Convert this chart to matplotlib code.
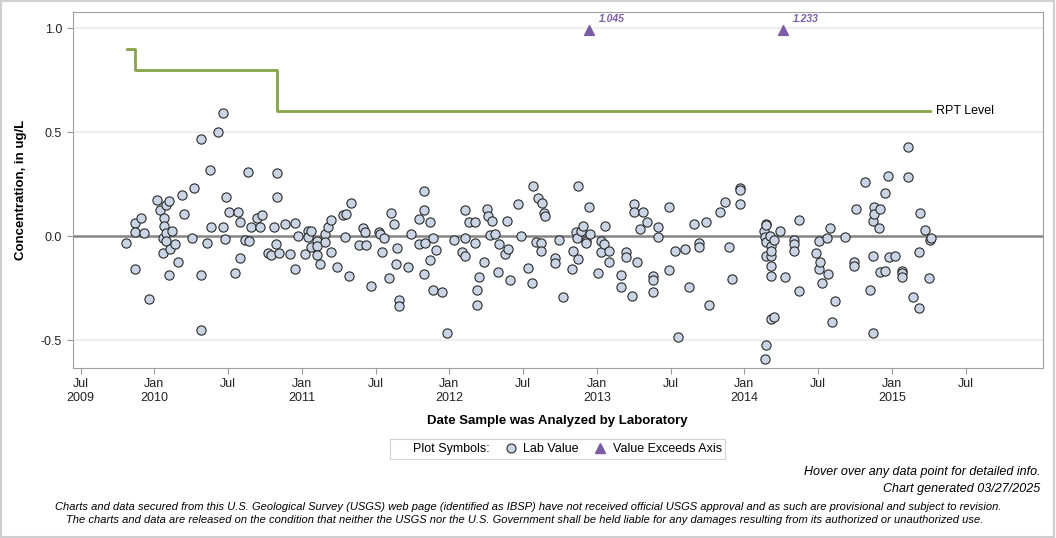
import matplotlib
matplotlib.use("Agg")
import matplotlib.pyplot as plt
from matplotlib.lines import Line2D
from matplotlib.patches import Rectangle
import numpy as np

plt.rcParams['font.family'] = ['Liberation Sans', 'DejaVu Sans']

# sample dates (decimal years) and lab values, ug/L
dates = [
    2009.811, 2009.872, 2009.872, 2009.872, 2009.910, 2009.933, 2009.964, 2010.021, 2010.039, 2010.057,
    2010.061, 2010.068, 2010.068, 2010.080, 2010.080, 2010.082, 2010.102, 2010.102, 2010.109, 2010.122,
    2010.143, 2010.163, 2010.190, 2010.204, 2010.254, 2010.272, 2010.319, 2010.319, 2010.319, 2010.360,
    2010.380, 2010.387, 2010.434, 2010.468, 2010.468, 2010.482, 2010.486, 2010.505, 2010.549, 2010.570,
    2010.583, 2010.583, 2010.615, 2010.638, 2010.644, 2010.658, 2010.697, 2010.719, 2010.731, 2010.771,
    2010.794, 2010.814, 2010.823, 2010.834, 2010.834, 2010.848, 2010.888, 2010.920, 2010.956, 2010.956,
    2010.977, 2011.024, 2011.042, 2011.042, 2011.065, 2011.065, 2011.105, 2011.105, 2011.105, 2011.122,
    2011.160, 2011.160, 2011.180, 2011.200, 2011.200, 2011.241, 2011.280, 2011.295, 2011.302, 2011.322,
    2011.336, 2011.388, 2011.417, 2011.431, 2011.438, 2011.469, 2011.524, 2011.531, 2011.546, 2011.560,
    2011.594, 2011.605, 2011.627, 2011.641, 2011.648, 2011.661, 2011.661, 2011.722, 2011.743, 2011.797,
    2011.797, 2011.831, 2011.831, 2011.831, 2011.838, 2011.871, 2011.871, 2011.892, 2011.892, 2011.912,
    2011.953, 2011.987, 2012.034, 2012.088, 2012.107, 2012.109, 2012.109, 2012.136, 2012.177, 2012.177,
    2012.190, 2012.190, 2012.204, 2012.238, 2012.258, 2012.265, 2012.278, 2012.292, 2012.312, 2012.333,
    2012.339, 2012.380, 2012.394, 2012.400, 2012.414, 2012.468, 2012.488, 2012.536, 2012.563, 2012.570,
    2012.590, 2012.604, 2012.624, 2012.624, 2012.631, 2012.644, 2012.651, 2012.717, 2012.717, 2012.746,
    2012.771, 2012.834, 2012.841, 2012.859, 2012.864, 2012.875, 2012.875, 2012.895, 2012.909, 2012.929,
    2012.929, 2012.950, 2012.956, 2013.011, 2013.027, 2013.031, 2013.051, 2013.054, 2013.085, 2013.085,
    2013.166, 2013.166, 2013.200, 2013.200, 2013.241, 2013.255, 2013.255, 2013.275, 2013.295, 2013.316,
    2013.343, 2013.383, 2013.383, 2013.383, 2013.417, 2013.417, 2013.492, 2013.492, 2013.533, 2013.553,
    2013.600, 2013.627, 2013.661, 2013.691, 2013.691, 2013.743, 2013.763, 2013.838, 2013.872, 2013.899,
    2013.919, 2013.973, 2013.973, 2013.973, 2014.134, 2014.141, 2014.143, 2014.148, 2014.148, 2014.148,
    2014.148, 2014.150, 2014.175, 2014.183, 2014.183, 2014.183, 2014.183, 2014.183, 2014.183, 2014.204,
    2014.204, 2014.244, 2014.278, 2014.339, 2014.339, 2014.339, 2014.373, 2014.373, 2014.484, 2014.507,
    2014.509, 2014.516, 2014.529, 2014.563, 2014.570, 2014.581, 2014.597, 2014.617, 2014.685, 2014.746,
    2014.746, 2014.760, 2014.821, 2014.855, 2014.875, 2014.875, 2014.875, 2014.882, 2014.882, 2014.916,
    2014.920, 2014.922, 2014.956, 2014.956, 2014.977, 2014.983, 2015.024, 2015.072, 2015.072, 2015.072,
    2015.112, 2015.112, 2015.146, 2015.187, 2015.187, 2015.194, 2015.228, 2015.255, 2015.261, 2015.268,
]
values = [
    -0.033, 0.065, 0.022, -0.156, 0.087, 0.017, -0.300, 0.175, 0.126, -0.009,
    -0.081, 0.087, 0.049, 0.150, 0.017, -0.025, 0.169, -0.185, -0.060, 0.026,
    -0.037, -0.123, 0.200, 0.108, -0.009, 0.232, -0.185, -0.450, 0.467, -0.033,
    0.318, 0.044, 0.500, 0.044, 0.592, -0.013, 0.188, 0.116, -0.175, 0.116,
    0.068, -0.105, -0.017, 0.309, -0.022, 0.044, 0.087, 0.044, 0.102, -0.079,
    -0.090, 0.044, -0.037, 0.188, 0.304, -0.081, 0.060, -0.086, 0.065, -0.156,
    0.001, -0.086, 0.026, -0.006, 0.026, -0.050, -0.022, -0.047, -0.090, -0.134,
    0.012, -0.026, 0.044, 0.078, -0.075, -0.147, 0.102, -0.004, 0.108, -0.190,
    0.160, -0.042, 0.041, 0.022, -0.042, -0.238, 0.022, 0.012, -0.075, -0.007,
    -0.200, 0.112, 0.060, -0.134, -0.055, -0.305, -0.336, -0.147, 0.012, 0.083,
    -0.037, 0.217, 0.126, -0.182, -0.033, 0.068, -0.113, -0.009, -0.257, -0.065,
    -0.268, -0.465, -0.018, -0.076, 0.126, -0.009, -0.094, 0.068, 0.068, -0.033,
    -0.257, -0.331, -0.196, -0.123, 0.131, 0.099, 0.006, 0.073, 0.012, -0.172,
    -0.037, -0.086, 0.073, -0.062, -0.209, 0.156, 0.001, -0.153, -0.225, 0.243,
    -0.026, 0.185, -0.033, -0.070, 0.160, 0.113, 0.099, -0.105, -0.129, -0.018,
    -0.291, -0.156, -0.070, 0.018, -0.009, 0.243, -0.108, 0.026, 0.049, -0.022,
    -0.033, 0.140, 0.012, -0.175, -0.025, -0.075, -0.037, 0.049, -0.070, -0.123,
    -0.185, -0.243, -0.075, -0.099, -0.286, 0.156, 0.116, -0.123, 0.036, 0.116,
    0.068, -0.190, -0.211, -0.268, 0.044, -0.004, 0.140, -0.161, -0.070, -0.485,
    -0.062, -0.243, 0.060, -0.033, -0.052, 0.068, -0.331, 0.116, 0.164, -0.052,
    -0.204, 0.233, 0.222, 0.155, 0.026, -0.004, -0.590, 0.060, 0.052, -0.028,
    -0.094, -0.522, 0.001, -0.047, -0.094, -0.071, -0.143, -0.190, -0.398, -0.017,
    -0.387, 0.025, -0.195, -0.017, -0.037, -0.070, 0.079, -0.262, -0.081, -0.023,
    -0.156, -0.124, -0.224, -0.009, -0.182, 0.039, -0.411, -0.310, -0.004, -0.124,
    -0.142, 0.131, 0.260, -0.257, -0.464, -0.094, 0.073, 0.142, 0.107, 0.039,
    -0.171, 0.131, -0.166, 0.208, 0.291, -0.100, -0.095, -0.166, -0.175, -0.196,
    0.286, 0.430, -0.291, -0.344, -0.075, 0.113, 0.030, -0.200, -0.017, -0.009,
]

# values above the axis limit
exceed_dates = [2012.947, 2014.263]
exceed_values = [1.045, 1.233]

# reporting level steps
rpt_dates = [2009.813, 2009.870, 2009.870, 2010.834, 2010.834, 2015.259]
rpt_values = [0.9, 0.9, 0.8, 0.8, 0.6, 0.6]

tick_pos = [2009.5, 2010.0, 2010.5, 2011.0, 2011.5, 2012.0, 2012.5, 2013.0,
            2013.5, 2014.0, 2014.5, 2015.0, 2015.5]
tick_labels = ['Jul\n2009', 'Jan\n2010', 'Jul', 'Jan\n2011', 'Jul', 'Jan\n2012', 'Jul',
               'Jan\n2013', 'Jul', 'Jan\n2014', 'Jul', 'Jan\n2015', 'Jul']

fig = plt.figure(figsize=(10.56, 5.38), dpi=100)
ax = fig.add_axes([0.0687, 0.316, 0.9190, 0.6617])

fill = '#c9d4e4'
edge = '#2a2a2a'
purple = '#7b5da6'
green = '#86a547'

ax.set_xlim(2009.446, 2016.025)
ax.set_ylim(-0.634, 1.078)

for yv in [1.0, 0.5, -0.5]:
    ax.axhline(yv, color='#ebebeb', lw=1.2, zorder=0)
ax.axhline(0, color='#858585', lw=1.8, zorder=1)

ax.plot(rpt_dates, rpt_values, color=green, lw=2, zorder=2)
ax.text(2015.30, 0.6, 'RPT Level', va='center', ha='left', fontsize=9)

ax.scatter(dates, values, s=44, facecolor=fill, edgecolor=edge, linewidth=0.8, zorder=3)

ax.scatter(exceed_dates, [0.99] * len(exceed_dates), marker='^', s=50, color=purple, zorder=3)
for xd, v in zip(exceed_dates, exceed_values):
    ax.annotate(f'{v:.3f}', (xd, 0.99), xytext=(7, 6), textcoords='offset points',
                color=purple, fontsize=7.5, fontweight='bold', fontstyle='italic')

ax.set_yticks([-0.5, 0.0, 0.5, 1.0])
ax.set_yticklabels(['-0.5', '0.0', '0.5', '1.0'])
ax.set_xticks(tick_pos)
ax.set_xticklabels(tick_labels)
ax.tick_params(axis='both', colors='#9a9a9a', labelcolor='#222222', labelsize=9, length=4)
for sp in ax.spines.values():
    sp.set_color('#a0a0a0')

ax.set_xlabel('Date Sample was Analyzed by Laboratory', fontsize=9.5, fontweight='bold', labelpad=8)
ax.set_ylabel('Concentration, in ug/L', fontsize=9.5, fontweight='bold', labelpad=10)

handles = [
    Line2D([], [], linestyle='none', label='Plot Symbols:'),
    Line2D([], [], marker='o', linestyle='none', markersize=6.5, markerfacecolor=fill,
           markeredgecolor=edge, markeredgewidth=0.8, label='Lab Value'),
    Line2D([], [], marker='^', linestyle='none', markersize=7, color=purple,
           label='Value Exceeds Axis'),
]
leg = fig.legend(handles=handles, loc='center', bbox_to_anchor=(0.5284, 0.165), ncol=3,
                 fontsize=9, frameon=True, fancybox=False, handlelength=1.0,
                 handletextpad=0.5, columnspacing=1.2, borderpad=0.3)
leg.get_frame().set_edgecolor('#c8c8c8')
leg.get_frame().set_linewidth(0.8)

fig.text(0.985, 1 - 472 / 538, 'Hover over any data point for detailed info.',
         ha='right', va='center', fontsize=9, fontstyle='italic')
fig.text(0.985, 1 - 489 / 538, 'Chart generated 03/27/2025',
         ha='right', va='center', fontsize=9, fontstyle='italic')
fig.text(0.5, 1 - 507 / 538,
         'Charts and data secured from this U.S. Geological Survey (USGS) web page (identified as IBSP) '
         'have not received official USGS approval and as such are provisional and subject to revision.',
         ha='center', va='center', fontsize=8.0, fontstyle='italic')
fig.text(0.497, 1 - 520 / 538,
         'The charts and data are released on the condition that neither the USGS nor the U.S. Government '
         'shall be held liable for any damages resulting from its authorized or unauthorized use.',
         ha='center', va='center', fontsize=8.0, fontstyle='italic')

fig.patches.append(Rectangle((0.001, 0.002), 0.997, 0.996, transform=fig.transFigure,
                             fill=False, edgecolor='#cfcfcf', lw=1.5))

fig.savefig('out.png', dpi=100)
